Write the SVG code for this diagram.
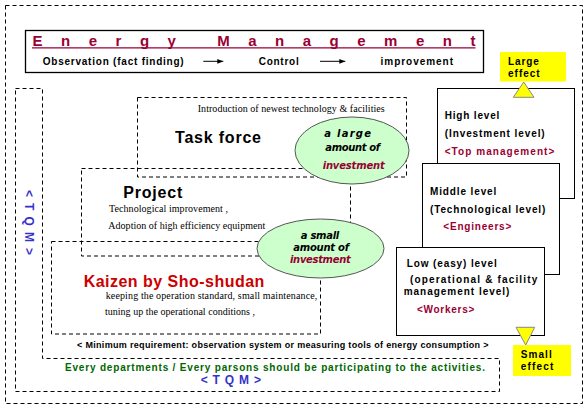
<svg xmlns="http://www.w3.org/2000/svg" width="588" height="409" viewBox="0 0 588 409">
<style>
.dash{fill:none;stroke:#000;stroke-width:1;stroke-dasharray:4 3}
.solid{fill:#fff;stroke:#000;stroke-width:1}
.b{font-family:"Liberation Sans",Arial,sans-serif;font-weight:bold}
.s{font-family:"Liberation Serif","Times New Roman",serif;font-size:10px;fill:#000}
.big{font-size:16px;fill:#000}
.lvl{font-size:10px;fill:#000}
.ell{fill:#ccffcc;stroke:#555;stroke-width:1}
.ei{font-family:"DejaVu Sans",Verdana,sans-serif;font-weight:bold;font-style:italic;font-size:10px;fill:#000}
.tri{fill:#ffff00;stroke:#888;stroke-width:1}
.mar{fill:#990033}
</style>
<defs>
<marker id="ah" viewBox="0 0 10 10" refX="10" refY="5" markerWidth="6" markerHeight="6" markerUnits="userSpaceOnUse" orient="auto">
<path d="M0,1 L10,5 L0,9 Z" fill="#000"/>
</marker>
</defs>
<rect width="588" height="409" fill="#fff"/>
<g id="outer-border">
<rect class="dash" x="5.5" y="5.5" width="577" height="398"/>
</g>
<g id="energy-management">
<rect x="25.5" y="30.5" width="458" height="42" fill="#fff" stroke="#000" stroke-width="1.3"/>
<text class="b mar" x="32.5" y="45.7" font-size="15" textLength="443" lengthAdjust="spacing">Energy Management</text>
<line x1="32" y1="47.8" x2="475.5" y2="47.8" stroke="#990033" stroke-width="1.2"/>
<text class="b" x="42.7" y="65.3" font-size="10" textLength="141" lengthAdjust="spacing">Observation (fact finding)</text>
<text class="b" x="258.7" y="65.3" font-size="10" textLength="40" lengthAdjust="spacing">Control</text>
<text class="b" x="380.6" y="65.3" font-size="10" textLength="72.4" lengthAdjust="spacing">improvement</text>
</g>
<g id="tqm-frame">
<path class="dash" d="M15.5,88.5 H42.5 V358.5 H499.5 V391.5 H15.5 Z"/>
<text class="b" transform="translate(25,190) rotate(90)" font-size="12" fill="#3333cc" textLength="65" lengthAdjust="spacing">&lt; T Q M &gt;</text>
<text class="b" x="65" y="370.7" font-size="10" fill="#006600" textLength="420" lengthAdjust="spacing">Every departments / Every parsons should be participating to the activities.</text>
<text class="b" x="200.7" y="384.3" font-size="12" fill="#3333cc" textLength="60.3" lengthAdjust="spacing">&lt; T Q M &gt;</text>
</g>
<g id="minimum-requirement">
<text class="b" x="77" y="347.5" font-size="9" textLength="411.5" lengthAdjust="spacing">&lt; Minimum requirement: observation system or measuring tools of energy consumption &gt;</text>
</g>
<g id="task-force">
<rect class="dash" x="137.5" y="97.5" width="269" height="79.5"/>
<text class="s" x="197.7" y="111.7" textLength="187" lengthAdjust="spacing">Introduction of newest technology &amp; facilities</text>
<text class="b big" x="175" y="143.3" textLength="86" lengthAdjust="spacing">Task force</text>
</g>
<g id="project">
<rect class="dash" x="81.5" y="168.5" width="269" height="87.5"/>
<text class="b big" x="123.3" y="198.3" textLength="59" lengthAdjust="spacing">Project</text>
<text class="s" x="109" y="212.3" textLength="119" lengthAdjust="spacing">Technological improvement ,</text>
<text class="s" x="108.3" y="229" textLength="157" lengthAdjust="spacing">Adoption of high efficiency equipment</text>
</g>
<g id="kaizen">
<rect class="dash" x="51.5" y="241.5" width="269" height="92.5"/>
<text class="b" x="83.7" y="286.7" font-size="16" fill="#cc0000" textLength="180.6" lengthAdjust="spacing">Kaizen by Sho-shudan</text>
<text class="s" x="105.7" y="298.7" textLength="211.6" lengthAdjust="spacing">keeping the operation standard,  small maintenance,</text>
<text class="s" x="105" y="315" textLength="150" lengthAdjust="spacing">tuning up the operational conditions ,</text>
</g>
<g id="large-investment">
<ellipse class="ell" cx="352" cy="150.5" rx="57" ry="33.5"/>
<text class="ei" x="324.3" y="137.3" textLength="46.7" lengthAdjust="spacing">a large</text>
<text class="ei" x="325.3" y="150.7" textLength="54.7" lengthAdjust="spacing">amount of</text>
<text class="ei mar" x="322.7" y="168.7" textLength="62" lengthAdjust="spacing">investment</text>
</g>
<g id="small-investment">
<ellipse class="ell" cx="320.5" cy="248.5" rx="63.5" ry="29.5"/>
<text class="ei" x="300.7" y="239" textLength="38.6" lengthAdjust="spacing">a small</text>
<text class="ei" x="293.3" y="251" textLength="55.7" lengthAdjust="spacing">amount of</text>
<text class="ei mar" x="290" y="263.3" textLength="60.7" lengthAdjust="spacing">investment</text>
</g>
<g id="high-level">
<rect class="solid" x="437.5" y="88.5" width="137" height="110"/>
<text class="b lvl" x="444.7" y="118.7" textLength="54.6" lengthAdjust="spacing">High level</text>
<text class="b lvl" x="444.7" y="137" textLength="100" lengthAdjust="spacing">(Investment level)</text>
<text class="b lvl mar" x="444.7" y="155.3" textLength="109.6" lengthAdjust="spacing">&lt;Top management&gt;</text>
</g>
<g id="middle-level">
<rect class="solid" x="422.5" y="163.5" width="137" height="111"/>
<text class="b lvl" x="430" y="194.7" textLength="66.3" lengthAdjust="spacing">Middle level</text>
<text class="b lvl" x="430" y="212.7" textLength="115.3" lengthAdjust="spacing">(Technological level)</text>
<text class="b lvl mar" x="443.3" y="230.3" textLength="68" lengthAdjust="spacing">&lt;Engineers&gt;</text>
</g>
<g id="low-level">
<rect class="solid" x="396.5" y="247.5" width="148" height="88"/>
<text class="b lvl" x="406.7" y="266.7" textLength="90" lengthAdjust="spacing">Low (easy) level</text>
<text class="b lvl" x="410" y="283.3" textLength="127.3" lengthAdjust="spacing">(operational  &amp;  facility</text>
<text class="b lvl" x="403.7" y="295" textLength="105.7" lengthAdjust="spacing">management level)</text>
<text class="b lvl mar" x="417" y="312.7" textLength="57.3" lengthAdjust="spacing">&lt;Workers&gt;</text>
</g>
<g id="large-effect">
<rect x="500" y="52" width="66" height="29.5" fill="#ffff00"/>
<text class="b lvl" x="508" y="65" textLength="30.7" lengthAdjust="spacing">Large</text>
<text class="b lvl" x="508" y="76.7" textLength="31.7" lengthAdjust="spacing">effect</text>
</g>
<g id="small-effect">
<rect x="513" y="345" width="58" height="31" fill="#ffff00"/>
<text class="b lvl" x="520.7" y="358" textLength="31" lengthAdjust="spacing">Small</text>
<text class="b lvl" x="520.7" y="370" textLength="32.6" lengthAdjust="spacing">effect</text>
</g>
<g id="connectors">
<line x1="203.3" y1="61.3" x2="223.3" y2="61.3" stroke="#000" stroke-width="1" marker-end="url(#ah)"/>
<line x1="320" y1="61.3" x2="345.3" y2="61.3" stroke="#000" stroke-width="1" marker-end="url(#ah)"/>
<polygon class="tri" points="523.7,82 534,97.3 513.3,97.3"/>
<polygon class="tri" points="516,327.3 534.7,327.3 525.7,345"/>
</g>
</svg>
